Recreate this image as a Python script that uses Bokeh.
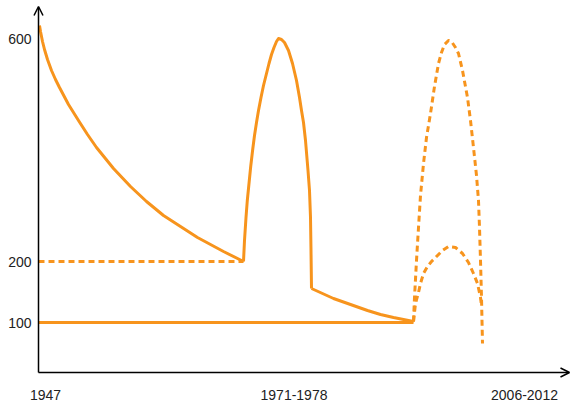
from bokeh.plotting import figure
from bokeh.models import Range1d, Arrow, OpenHead
from bokeh.core.properties import value
from bokeh.embed import file_html
from bokeh.resources import INLINE

# Schematic levels (arbitrary units)
y_tick_pos = [334, 111, 50]
y_tick_labels = ["600", "200", "100"]
x_tick_pos = [7, 255.5, 486]
x_tick_labels = ["1947", "1971-1978", "2006-2012"]

# solid path: decay, first arch, second decay, base line at 100
decay1_x = [1, 2, 4, 6, 9, 13, 17, 21, 30, 40, 49, 58, 75, 92, 108, 125, 142, 159, 172, 185, 205]
decay1_y = [347, 341, 331, 323, 313, 302, 293, 285, 268, 252, 238, 225, 204, 186, 171, 157, 146,
            135, 128, 121, 111]
arch1_x = [205, 206, 207.5, 208.8, 210.5, 212.2, 214.2, 216, 218, 220, 222.5, 225, 228, 230.5,
           233, 235.5, 238, 240, 243, 246, 250, 254, 258, 261, 263, 265, 267, 268, 269.5, 271,
           272, 272.5, 273]
arch1_y = [111, 132, 155, 172, 189, 206, 223, 237, 250, 262, 275, 287, 299, 309,
           318, 325, 331, 334, 333, 330, 322, 309, 292, 275, 262, 250, 232, 220, 202, 182,
           155, 122, 84]
decay2_x = [273, 284, 295, 312, 329, 342, 355, 375]
decay2_y = [84, 79, 74, 68, 62, 58, 55, 51]
base_x = [0, 375]
base_y = [50, 50]

# dashed paths
dash200_x = [0, 205]
dash200_y = [111, 111]
arch2_x = [375, 376, 378, 380, 382, 385, 388, 392, 396, 400, 403, 406, 410, 413, 417, 420, 424,
           429, 432, 435, 438, 440, 441, 442, 443, 444]
arch2_y = [51, 75, 112, 145, 177, 209, 235, 259, 286, 309, 320, 328, 332, 331, 325, 319, 302,
           275, 252, 225, 197, 172, 145, 112, 75, 29]
arch3_x = [375, 376, 377, 380, 382, 385, 389, 393, 397, 404, 410, 417, 424, 430, 435, 439, 442, 443]
arch3_y = [51, 60, 69, 80, 89, 99, 106, 111, 115, 122, 126, 125, 119, 110, 99, 89, 75, 67]

ORANGE = "#f7941d"
FONT = "Liberation Sans"

p = figure(width=571, height=404, output_backend="svg", toolbar_location=None,
           x_range=Range1d(-38, 533), y_range=Range1d(-32, 372),
           min_border_left=0, min_border_right=0, min_border_top=0, min_border_bottom=0)
p.axis.visible = False
p.grid.visible = False
p.outline_line_color = None
p.background_fill_color = None
p.border_fill_color = "white"

# axes with arrow heads
p.add_layout(Arrow(end=OpenHead(size=9, line_width=1.5, line_color="black"),
                   x_start=0, y_start=0, x_end=531, y_end=0,
                   line_width=1.5, line_color="black"))
p.add_layout(Arrow(end=OpenHead(size=9, line_width=1.5, line_color="black"),
                   x_start=0, y_start=0, x_end=0, y_end=366,
                   line_width=1.5, line_color="black"))

# tick labels
p.text(x=[-7] * len(y_tick_pos), y=y_tick_pos, text=y_tick_labels,
       text_font=value(FONT), text_font_size="14px", text_color="#222222",
       text_align="right", text_baseline="middle")
p.text(x=x_tick_pos, y=[-22] * len(x_tick_pos), text=x_tick_labels,
       text_font=value(FONT), text_font_size="14px", text_color="#222222",
       text_align="center", text_baseline="middle")

lw = 3
p.line(base_x, base_y, line_color=ORANGE, line_width=lw)
p.line(decay1_x, decay1_y, line_color=ORANGE, line_width=lw, line_join="round")
p.line(arch1_x, arch1_y, line_color=ORANGE, line_width=lw, line_join="round")
p.line(decay2_x, decay2_y, line_color=ORANGE, line_width=lw, line_join="round")
p.line(dash200_x, dash200_y, line_color=ORANGE, line_width=lw, line_dash="6 4")
p.line(arch2_x, arch2_y, line_color=ORANGE, line_width=lw, line_dash="6 4", line_join="round")
p.line(arch3_x, arch3_y, line_color=ORANGE, line_width=lw, line_dash="6 4", line_join="round")

open("out.html", "w").write(file_html(p, INLINE))
